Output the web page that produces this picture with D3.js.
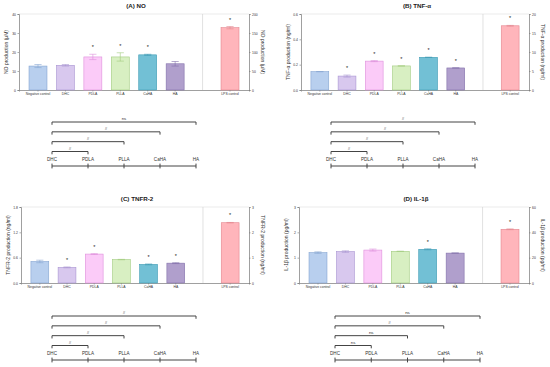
<!DOCTYPE html>
<html lang="en">
<head>
  <meta charset="UTF-8">
  <title>Cytokine production</title>
  <script src="https://d3js.org/d3.v7.min.js"></script>
  <style>
    body { margin: 0; background: #fff; }
    svg { font-family: "Liberation Sans", Arial, sans-serif; }
  </style>
</head>
<body>
  <div id="container"></div>
  <script>
    // data
    var categories = ["Negative control", "DHC", "PDLA", "PLLA", "CaHA", "HA", "LPS control"];
    var colors = ["#b8cfee", "#d8c8ee", "#fbcbf8", "#d8efc2", "#72c0d5", "#b09fcc", "#ffb5bb"];
    var strokes = ["#86a6d2", "#a995d2", "#de8fdb", "#a2cc80", "#3f9cb5", "#8371ab", "#e4868f"];

    var noValues = [12.6, 13.0, 17.4, 17.4, 18.5, 13.8, 164];
    var noErrors = [0.8, 0.4, 1.4, 2.2, 0.3, 1.2, 3];
    var noStars = [0, 0, 1, 1, 1, 0, 1];

    var tnfValues = [0.145, 0.11, 0.228, 0.19, 0.258, 0.174, 16.9];
    var tnfErrors = [0, 0.008, 0.004, 0, 0, 0, 0.1];
    var tnfStars = [0, 1, 1, 1, 1, 1, 1];

    var tnfr2Values = [0.51, 0.37, 0.685, 0.555, 0.44, 0.47, 2.38];
    var tnfr2Errors = [0.03, 0.01, 0.01, 0.005, 0.01, 0.01, 0.01];
    var tnfr2Stars = [0, 1, 1, 0, 1, 1, 1];

    var il1bValues = [1.2, 1.24, 1.3, 1.25, 1.33, 1.18, 42.4];
    var il1bErrors = [0.03, 0.03, 0.04, 0, 0.02, 0, 0.3];
    var il1bStars = [0, 0, 0, 0, 1, 0, 1];

    var compareGroups = ["DHC", "PDLA", "PLLA", "CaHA", "HA"];
    var noSig = ["#", "#", "#", "ns"];
    var tnfSig = ["#", "#", "#", "#"];
    var tnfr2Sig = ["#", "#", "#", "#"];
    var il1bSig = ["ns", "ns", "#", "ns"];

    var panels = [
      { title: "(A) NO", label: "NO production (\u03bcM)", values: noValues, errors: noErrors, stars: noStars,
        leftMax: 40, leftTicks: [0, 10, 20, 30, 40], rightMax: 200, rightTicks: [0, 50, 100, 150, 200], sig: noSig,
        x0: 19, x1: 249, y0: 14, y1: 90, bx0: 52, bx1: 196, by: 122 },
      { title: "(B) TNF-\u03b1", label: "TNF-\u03b1 production (ng/ml)", values: tnfValues, errors: tnfErrors, stars: tnfStars,
        leftMax: 0.6, leftTicks: [0, 0.2, 0.4, 0.6], rightMax: 20, rightTicks: [0, 5, 10, 15, 20], sig: tnfSig, fmt: ".1f",
        x0: 301, x1: 529, y0: 14, y1: 90, bx0: 331, bx1: 475, by: 122 },
      { title: "(C) TNFR-2", label: "TNFR-2 production (ng/ml)", values: tnfr2Values, errors: tnfr2Errors, stars: tnfr2Stars,
        leftMax: 1.8, leftTicks: [0, 0.6, 1.2, 1.8], rightMax: 3, rightTicks: [0, 1, 2, 3], sig: tnfr2Sig, fmt: ".1f",
        x0: 21, x1: 249, y0: 207, y1: 283, bx0: 52, bx1: 196, by: 316 },
      { title: "(D) IL-1\u03b2", label: "IL-1\u03b2 production (pg/ml)", values: il1bValues, errors: il1bErrors, stars: il1bStars,
        leftMax: 3, leftTicks: [0, 1, 2, 3], rightMax: 60, rightTicks: [0, 20, 40, 60], sig: il1bSig,
        x0: 299, x1: 529, y0: 207, y1: 283, bx0: 335, bx1: 480, by: 316 }
    ];

    var svg = d3.select("#container").append("svg")
      .attr("width", 550)
      .attr("height", 367);

    var slots = categories.slice(0, 6).concat(["gap", "LPS control"]);

    panels.forEach(function (p) {
      var g = svg.append("g");

      var x = d3.scaleBand().domain(slots).range([p.x0, p.x1])
        .paddingInner(0.345).paddingOuter(0.365);
      var yL = d3.scaleLinear().domain([0, p.leftMax]).range([p.y1, p.y0]);
      var yR = d3.scaleLinear().domain([0, p.rightMax]).range([p.y1, p.y0]);
      var yOf = function (i, v) { return i === 6 ? yR(v) : yL(v); };

      // title
      g.append("text")
        .attr("x", (p.x0 + p.x1) / 2 + 2)
        .attr("y", p.y0 - 6)
        .attr("text-anchor", "middle")
        .attr("font-size", 6.2)
        .attr("font-weight", "bold")
        .attr("fill", "#222")
        .text(p.title);

      // top frame line + divider
      g.append("line")
        .attr("x1", p.x0).attr("x2", p.x1)
        .attr("y1", p.y0).attr("y2", p.y0)
        .attr("stroke", "#ddd").attr("stroke-width", 0.6);
      var gapX = x("gap") + x.bandwidth() / 2;
      g.append("line")
        .attr("x1", gapX).attr("x2", gapX)
        .attr("y1", p.y0).attr("y2", p.y1)
        .attr("stroke", "#ccc").attr("stroke-width", 0.6);

      // axes
      var fmt = p.fmt ? d3.format(p.fmt) : d3.format("d");
      var axL = g.append("g").attr("transform", "translate(" + p.x0 + ",0)")
        .call(d3.axisLeft(yL).tickValues(p.leftTicks).tickSize(1.5).tickFormat(fmt));
      var axR = g.append("g").attr("transform", "translate(" + p.x1 + ",0)")
        .call(d3.axisRight(yR).tickValues(p.rightTicks).tickSize(1.5).tickFormat(d3.format("d")));
      var axB = g.append("g").attr("transform", "translate(0," + p.y1 + ")")
        .call(d3.axisBottom(x).tickValues(categories).tickSize(1.5));
      [axL, axR, axB].forEach(function (a) {
        a.selectAll("path").attr("stroke", "#777").attr("stroke-width", 0.7);
        a.selectAll("line").attr("stroke", "#777").attr("stroke-width", 0.6);
        a.selectAll("text").attr("font-size", 3.4).attr("fill", "#333");
      });
      axL.selectAll("text").attr("x", -3);
      axR.selectAll("text").attr("x", 3);
      axB.selectAll("text").attr("y", 3);

      // axis titles
      g.append("text")
        .attr("transform", "translate(" + (p.x0 - 11) + "," + (p.y0 + p.y1) / 2 + ") rotate(-90)")
        .attr("text-anchor", "middle")
        .attr("font-size", 5)
        .attr("fill", "#333")
        .text(p.label);
      g.append("text")
        .attr("transform", "translate(" + (p.x1 + 12) + "," + (p.y0 + p.y1) / 2 + ") rotate(90)")
        .attr("text-anchor", "middle")
        .attr("font-size", 5)
        .attr("fill", "#333")
        .text(p.label);

      // bars
      var bars = categories.map(function (c, i) {
        return { cat: c, i: i, v: p.values[i], e: p.errors[i], s: p.stars[i] };
      });
      g.selectAll(".bar").data(bars).enter().append("rect")
        .attr("class", "bar")
        .attr("x", function (d) { return x(d.cat); })
        .attr("width", x.bandwidth())
        .attr("y", function (d) { return yOf(d.i, d.v); })
        .attr("height", function (d) { return p.y1 - yOf(d.i, d.v); })
        .attr("fill", function (d) { return colors[d.i]; })
        .attr("stroke", function (d) { return strokes[d.i]; })
        .attr("stroke-width", 0.6);

      // error bars
      var eb = g.selectAll(".err").data(bars).enter().append("g").attr("class", "err")
        .attr("stroke", function (d) { return strokes[d.i]; })
        .attr("stroke-width", 0.6);
      eb.append("line")
        .attr("x1", function (d) { return x(d.cat) + x.bandwidth() / 2; })
        .attr("x2", function (d) { return x(d.cat) + x.bandwidth() / 2; })
        .attr("y1", function (d) { return yOf(d.i, d.v - d.e); })
        .attr("y2", function (d) { return yOf(d.i, d.v + d.e); });
      [1, -1].forEach(function (sgn) {
        eb.append("line")
          .attr("x1", function (d) { return x(d.cat) + x.bandwidth() * 0.3; })
          .attr("x2", function (d) { return x(d.cat) + x.bandwidth() * 0.7; })
          .attr("y1", function (d) { return yOf(d.i, d.v + sgn * d.e); })
          .attr("y2", function (d) { return yOf(d.i, d.v + sgn * d.e); });
      });

      // stars
      g.selectAll(".star").data(bars.filter(function (d) { return d.s; })).enter().append("text")
        .attr("class", "star")
        .attr("x", function (d) { return x(d.cat) + x.bandwidth() / 2; })
        .attr("y", function (d) { return yOf(d.i, d.v + d.e) - 5; })
        .attr("text-anchor", "middle")
        .attr("font-size", 5.5)
        .attr("fill", "#222")
        .text("*");

      // comparison brackets
      var bx = d3.scalePoint().domain(compareGroups).range([p.bx0, p.bx1]);
      var levels = d3.scalePoint().domain(["HA", "CaHA", "PLLA", "PDLA"]).range([p.by, p.by + 29.5]);
      var comps = compareGroups.slice(1).map(function (c, i) { return { to: c, sig: p.sig[i] }; });
      var bg = g.append("g").attr("stroke", "#444").attr("stroke-width", 1).attr("fill", "none");
      comps.forEach(function (c) {
        var yy = levels(c.to);
        bg.append("path")
          .attr("d", "M" + bx("DHC") + "," + (yy + 2.8) + "V" + yy + "H" + bx(c.to) + "V" + (yy + 2.8));
        g.append("text")
          .attr("x", (bx("DHC") + bx(c.to)) / 2)
          .attr("y", yy - 2)
          .attr("text-anchor", "middle")
          .attr("font-size", 4.4)
          .attr("fill", "#333")
          .text(c.sig);
      });
      var baseY = p.by + 44;
      g.selectAll(".glabel").data(compareGroups).enter().append("text")
        .attr("class", "glabel")
        .attr("x", function (d) { return bx(d); })
        .attr("y", baseY - 5)
        .attr("text-anchor", "middle")
        .attr("font-size", 4.6)
        .attr("fill", "#333")
        .text(function (d) { return d; });
      bg.append("line")
        .attr("x1", bx("DHC")).attr("x2", bx("HA"))
        .attr("y1", baseY).attr("y2", baseY);
      bg.selectAll(".gtick").data(compareGroups).enter().append("line")
        .attr("x1", function (d) { return bx(d); })
        .attr("x2", function (d) { return bx(d); })
        .attr("y1", baseY - 2.4)
        .attr("y2", baseY + 2.4);
    });
  </script>
</body>
</html>
